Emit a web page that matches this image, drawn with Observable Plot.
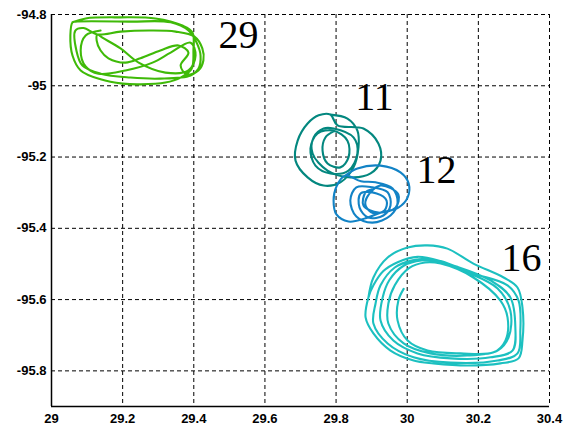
<!DOCTYPE html>
<html>
<head>
<meta charset="utf-8">
<script src="https://cdn.jsdelivr.net/npm/d3@7"></script>
<script src="https://cdn.jsdelivr.net/npm/@observablehq/plot@0.6"></script>
<style>
  body { margin: 0; background: #fff; }
  #chart { width: 571px; height: 427px; }
</style>
</head>
<body>
<div id="chart"></div>
<script>
// Axis ticks
const xTicks = [29, 29.2, 29.4, 29.6, 29.8, 30, 30.2, 30.4];
const yTicks = [-94.8, -95, -95.2, -95.4, -95.6, -95.8];

// Eddy tracks, [x, y] pairs
const track29 = [
  [29.059, -94.822], [29.096, -94.811], [29.194, -94.808], [29.292, -94.811], [29.368, -94.831],
  [29.396, -94.850], [29.399, -94.901], [29.394, -94.952], [29.363, -94.977], [29.320, -94.991],
  [29.250, -94.996], [29.200, -94.994], [29.138, -94.982], [29.082, -94.957], [29.059, -94.915],
  [29.053, -94.859], [29.059, -94.822],
  [29.067, -94.820], [29.222, -94.820], [29.335, -94.822], [29.385, -94.845], [29.408, -94.879],
  [29.419, -94.915], [29.413, -94.952], [29.391, -94.971], [29.306, -94.980], [29.222, -94.977],
  [29.138, -94.966], [29.087, -94.943], [29.070, -94.901], [29.067, -94.845], [29.090, -94.838],
  [29.129, -94.856], [29.194, -94.848], [29.278, -94.845], [29.349, -94.848], [29.402, -94.862],
  [29.424, -94.895], [29.427, -94.929], [29.413, -94.957], [29.380, -94.968], [29.363, -94.943],
  [29.385, -94.907], [29.357, -94.887], [29.306, -94.901], [29.250, -94.923], [29.208, -94.935],
  [29.160, -94.923], [29.138, -94.901], [29.127, -94.873], [29.129, -94.856],
  [29.143, -94.865], [29.194, -94.895], [29.245, -94.935], [29.320, -94.963], [29.385, -94.957],
  [29.405, -94.915], [29.391, -94.879], [29.335, -94.907], [29.284, -94.935], [29.208, -94.957],
  [29.132, -94.966], [29.096, -94.946], [29.082, -94.901], [29.096, -94.859], [29.138, -94.845]
];

const track11 = [
  [29.784, -95.081], [29.832, -95.092], [29.860, -95.126], [29.863, -95.173], [29.849, -95.229],
  [29.812, -95.271], [29.765, -95.280], [29.720, -95.257], [29.686, -95.210], [29.692, -95.154],
  [29.720, -95.106], [29.751, -95.083], [29.784, -95.081],
  [29.804, -95.111], [29.877, -95.120], [29.919, -95.162], [29.925, -95.210], [29.897, -95.246],
  [29.841, -95.257], [29.776, -95.238], [29.734, -95.190], [29.737, -95.145], [29.765, -95.120],
  [29.793, -95.120], [29.849, -95.145], [29.860, -95.190], [29.835, -95.238], [29.784, -95.246],
  [29.742, -95.224], [29.728, -95.176], [29.748, -95.134], [29.793, -95.126],
  [29.832, -95.154], [29.835, -95.201], [29.812, -95.229], [29.776, -95.218], [29.762, -95.182],
  [29.770, -95.145], [29.793, -95.128]
];

const track12 = [
  [29.826, -95.252], [29.860, -95.232], [29.925, -95.224], [29.981, -95.243], [30.004, -95.274],
  [30.001, -95.314], [29.975, -95.342], [29.925, -95.356], [29.883, -95.372], [29.835, -95.381],
  [29.801, -95.361], [29.793, -95.322], [29.801, -95.283], [29.826, -95.252],
  [29.870, -95.268], [29.911, -95.271], [29.959, -95.288], [29.973, -95.328], [29.953, -95.364],
  [29.902, -95.384], [29.857, -95.367], [29.840, -95.322], [29.857, -95.285], [29.902, -95.285],
  [29.945, -95.299], [29.953, -95.336], [29.933, -95.364], [29.891, -95.370], [29.866, -95.342],
  [29.869, -95.302], [29.914, -95.302], [29.942, -95.322], [29.936, -95.350], [29.905, -95.358],
  [29.883, -95.336], [29.888, -95.311], [29.925, -95.280], [29.975, -95.305], [29.967, -95.342],
  [29.919, -95.356], [29.877, -95.336], [29.883, -95.299], [29.905, -95.290]
];

const track16 = [
  [29.891, -95.594], [29.905, -95.538], [29.945, -95.482], [30.001, -95.454], [30.057, -95.448],
  [30.113, -95.457], [30.186, -95.499], [30.271, -95.538], [30.310, -95.566], [30.324, -95.622],
  [30.324, -95.715], [30.313, -95.765], [30.262, -95.779], [30.169, -95.785], [30.074, -95.779],
  [30.018, -95.771], [29.953, -95.743], [29.905, -95.695], [29.883, -95.650], [29.891, -95.594],
  [29.905, -95.560], [29.933, -95.520], [29.973, -95.495], [30.029, -95.480], [30.094, -95.492],
  [30.186, -95.527], [30.282, -95.560], [30.313, -95.603], [30.318, -95.687], [30.310, -95.751],
  [30.254, -95.771], [30.122, -95.777], [30.018, -95.762], [29.945, -95.723], [29.905, -95.667],
  [29.911, -95.611], [29.925, -95.560], [29.965, -95.510], [30.015, -95.490], [30.057, -95.486],
  [30.141, -95.508], [30.234, -95.546], [30.290, -95.594], [30.304, -95.678], [30.296, -95.743],
  [30.234, -95.762], [30.122, -95.765], [30.029, -95.751], [29.961, -95.715], [29.925, -95.659],
  [29.931, -95.594], [29.950, -95.545], [29.990, -95.505], [30.040, -95.490], [30.080, -95.493],
  [30.169, -95.524], [30.254, -95.569], [30.290, -95.631], [30.285, -95.706], [30.254, -95.743],
  [30.169, -95.757], [30.065, -95.751], [29.990, -95.723], [29.947, -95.667], [29.947, -95.611],
  [29.965, -95.560], [30.005, -95.512], [30.050, -95.496], [30.094, -95.499], [30.186, -95.538],
  [30.262, -95.603], [30.282, -95.650], [30.276, -95.715], [30.243, -95.748], [30.150, -95.751],
  [30.057, -95.743], [30.001, -95.715], [29.973, -95.659], [29.975, -95.603], [29.990, -95.570]
];

// Track labels and where they sit
const labelText = ["29", "11", "12", "16"];
const labelX = [29.526, 29.908, 30.082, 30.321];
const labelY = [-94.893, -95.069, -95.274, -95.521];

const colors = { "29": "#3fba08", "11": "#03877f", "12": "#1283c6", "16": "#1cc0c0" };

const labels = labelText.map((t, i) => ({ text: t, x: labelX[i], y: labelY[i] }));
const fmt = (d) => String(d);

const chart = Plot.plot({
  width: 571,
  height: 427,
  marginLeft: 51,
  marginRight: 22,
  marginTop: 14,
  marginBottom: 21,
  style: { fontFamily: "'Liberation Sans', Arial, sans-serif", background: "#fff", color: "#000" },
  x: { domain: [29, 30.4] },
  y: { domain: [-95.9, -94.8] },
  marks: [
    Plot.gridX(xTicks, { stroke: "#000", strokeOpacity: 1, strokeWidth: 1, strokeDasharray: "4,3" }),
    Plot.gridY(yTicks, { stroke: "#000", strokeOpacity: 1, strokeWidth: 1, strokeDasharray: "4,3" }),
    Plot.line(track29, { stroke: colors["29"], strokeWidth: 2.1, curve: "catmull-rom" }),
    Plot.line(track11, { stroke: colors["11"], strokeWidth: 2.1, curve: "catmull-rom" }),
    Plot.line(track12, { stroke: colors["12"], strokeWidth: 2.1, curve: "catmull-rom" }),
    Plot.line(track16, { stroke: colors["16"], strokeWidth: 2.1, curve: "catmull-rom" }),
    Plot.text(labels, {
      x: "x", y: "y", text: "text", fill: "#000",
      fontFamily: "'Liberation Serif', 'Times New Roman', serif",
      fontSize: 40, lineAnchor: "bottom", textAnchor: "middle"
    }),
    Plot.axisX({ ticks: xTicks, tickFormat: fmt, tickSize: 0, tickPadding: 7, fontSize: 13, fontWeight: "bold", label: null }),
    Plot.axisY({ ticks: yTicks, tickFormat: fmt, tickSize: 0, tickPadding: 5, fontSize: 13, fontWeight: "bold", label: null }),
    Plot.ruleX([29], { stroke: "#000", strokeWidth: 1.5 }),
    Plot.ruleY([-95.9], { stroke: "#000", strokeWidth: 1.5 })
  ]
});

document.getElementById("chart").appendChild(chart);
</script>
</body>
</html>
